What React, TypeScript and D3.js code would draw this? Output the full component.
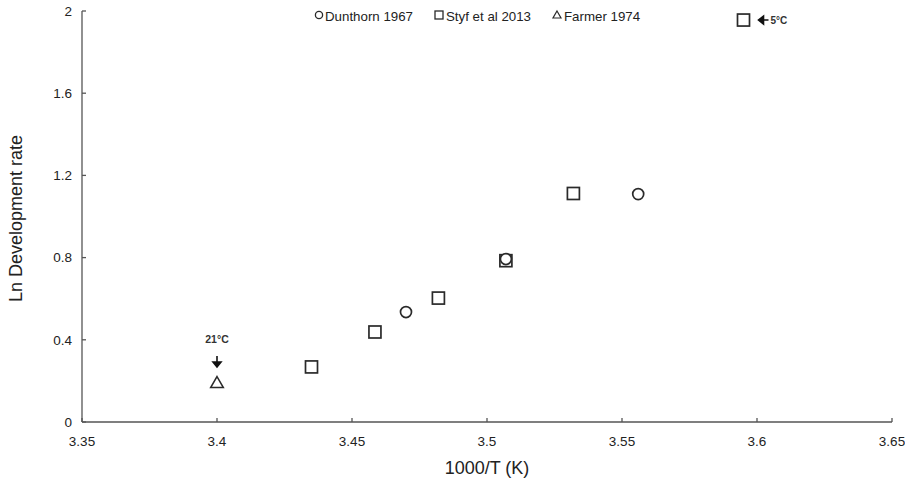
import React from "react";
import * as d3 from "d3";

const width = 905;
const height = 481;
const margin = { top: 11, right: 13, bottom: 59, left: 82 };

const dunthornX = [3.47, 3.507, 3.556];
const dunthornY = [0.535, 0.793, 1.109];
const styfX = [3.435, 3.4585, 3.482, 3.507, 3.532, 3.595];
const styfY = [0.268, 0.438, 0.603, 0.785, 1.112, 1.956];
const farmerX = [3.4];
const farmerY = [0.19];
const xTicks = [3.35, 3.4, 3.45, 3.5, 3.55, 3.6, 3.65];
const yTicks = [0, 0.4, 0.8, 1.2, 1.6, 2];

const font = "Liberation Sans, Arial, sans-serif";
const ink = "#2a2a2a";

const x = d3.scaleLinear().domain([3.35, 3.65]).range([margin.left, width - margin.right]);
const y = d3.scaleLinear().domain([0, 2]).range([height - margin.bottom, margin.top]);

const tri = d3.symbol().type(d3.symbolTriangle).size(70)();

const Square = ({ cx, cy }: { cx: number; cy: number }) => (
  <rect x={cx - 6} y={cy - 6} width={12} height={12} fill="white" stroke={ink} strokeWidth={1.7} />
);
const Circle = ({ cx, cy }: { cx: number; cy: number }) => (
  <circle cx={cx} cy={cy} r={5.5} fill="white" stroke={ink} strokeWidth={1.7} />
);
const Tri = ({ cx, cy }: { cx: number; cy: number }) => (
  <path d={tri || ""} transform={`translate(${cx},${cy})`} fill="white" stroke={ink} strokeWidth={1.5} />
);

export default function App() {
  const x0 = x(3.35);
  const y0 = y(0);
  return (
    <svg width={width} height={height} style={{ position: "absolute", left: 0, top: 0 }} fontFamily={font}>
      <rect width={width} height={height} fill="white" />
      {/* axes */}
      <line x1={x0} x2={x0} y1={y(2)} y2={y0} stroke="#555" strokeWidth={1.3} />
      <line x1={x0} x2={x(3.65)} y1={y0} y2={y0} stroke="#555" strokeWidth={1.3} />
      {yTicks.map(t => (
        <g key={"y" + t}>
          <line x1={x0} x2={x0 + 4} y1={y(t)} y2={y(t)} stroke="#555" strokeWidth={1.3} />
          <text x={x0 - 10} y={y(t)} dy="0.35em" textAnchor="end" fontSize={13.5} fill="#222">
            {t}
          </text>
        </g>
      ))}
      {xTicks.map(t => (
        <g key={"x" + t}>
          <line x1={x(t)} x2={x(t)} y1={y0} y2={y0 - 4} stroke="#555" strokeWidth={1.3} />
          <text x={x(t)} y={y0 + 24} textAnchor="middle" fontSize={13.5} fill="#222">
            {t}
          </text>
        </g>
      ))}
      <text x={(x0 + x(3.65)) / 2} y={474} textAnchor="middle" fontSize={18} fill="#222">
        1000/T (K)
      </text>
      <text transform={`translate(22,${(y(2) + y0) / 2 + 2}) rotate(-90)`} textAnchor="middle" fontSize={18} fill="#222">
        Ln Development rate
      </text>

      {/* points */}
      {styfX.map((v, i) => (
        <Square key={"s" + i} cx={x(v)} cy={y(styfY[i])} />
      ))}
      {dunthornX.map((v, i) => (
        <Circle key={"c" + i} cx={x(v)} cy={y(dunthornY[i])} />
      ))}
      {farmerX.map((v, i) => (
        <Tri key={"t" + i} cx={x(v)} cy={y(farmerY[i]) + 1} />
      ))}

      {/* annotations */}
      <text x={x(3.4)} y={y(farmerY[0]) - 40} textAnchor="middle" fontSize={10.5} fontWeight="bold" fill="#333">
        21°C
      </text>
      <path
        d={`M${x(3.4)},${y(farmerY[0]) - 27} v9 M${x(3.4) - 4},${y(farmerY[0]) - 21} l4,5 l4,-5 z`}
        stroke="#111"
        strokeWidth={1.6}
        fill="#111"
      />
      <path
        d={`M${x(3.595) + 25},${y(1.956)} h-10 M${x(3.595) + 20},${y(1.956) - 4} l-5,4 l5,4 z`}
        stroke="#111"
        strokeWidth={1.6}
        fill="#111"
      />
      <text x={x(3.595) + 27} y={y(1.956)} dy="0.35em" fontSize={10} fontWeight="bold" fill="#333">
        5°C
      </text>

      {/* legend */}
      <g fontSize={13.3} fill="#222">
        <circle cx={319} cy={15} r={3.6} fill="white" stroke={ink} strokeWidth={1.3} />
        <text x={325} y={21}>Dunthorn 1967</text>
        <rect x={435} y={11} width={8} height={8} fill="white" stroke={ink} strokeWidth={1.3} />
        <text x={446} y={21}>Styf et al 2013</text>
        <path d="M557,11 l4,7 h-8 z" fill="white" stroke={ink} strokeWidth={1.2} />
        <text x={564} y={21}>Farmer 1974</text>
      </g>
    </svg>
  );
}
